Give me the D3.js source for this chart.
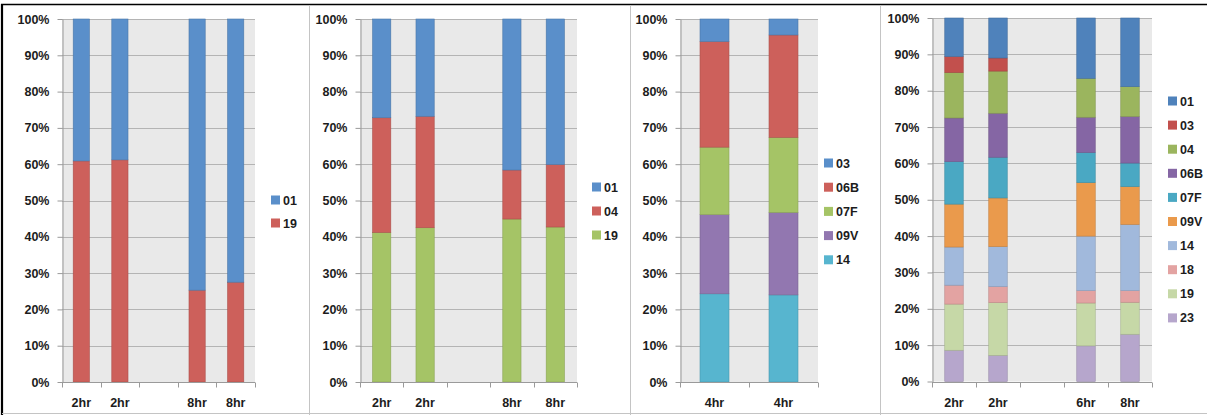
<!DOCTYPE html>
<html>
<head>
<meta charset="utf-8">
<script src="https://cdn.jsdelivr.net/npm/d3@7"></script>
<style>
  html, body { margin: 0; padding: 0; background: #fff; }
  svg { display: block; }
  text { font-family: "Liberation Sans", Arial, sans-serif; font-weight: bold; font-size: 12.5px; fill: #1c1c1c; }
</style>
</head>
<body>
<svg id="chart" width="1207" height="415"></svg>
<script>
// ---- Panel A: serotypes 01 / 19 ----
const catsA = ["2hr", "2hr", "", "8hr", "8hr"];
const seriesA = ["01", "19"];
const a01 = [39.1, 38.8, null, 74.7, 72.5];
const a19 = [60.9, 61.2, null, 25.3, 27.5];

// ---- Panel B: serotypes 01 / 04 / 19 ----
const catsB = ["2hr", "2hr", "", "8hr", "8hr"];
const seriesB = ["01", "04", "19"];
const b01 = [27.2, 26.8, null, 41.6, 40.1];
const b04 = [31.6, 30.7, null, 13.5, 17.2];
const b19 = [41.2, 42.5, null, 44.9, 42.7];

// ---- Panel C: serotypes 03 / 06B / 07F / 09V / 14 ----
const catsC = ["4hr", "4hr"];
const seriesC = ["03", "06B", "07F", "09V", "14"];
const c03 = [6.2, 4.4];
const c06B = [29.1, 28.2];
const c07F = [18.6, 20.7];
const c09V = [21.8, 22.7];
const c14 = [24.3, 24.0];

// ---- Panel D: ten serotypes ----
const catsD = ["2hr", "2hr", "", "6hr", "8hr"];
const seriesD = ["01", "03", "04", "06B", "07F", "09V", "14", "18", "19", "23"];
const d01 = [10.6, 11.0, null, 16.6, 18.9];
const d03 = [4.4, 3.6, null, 0, 0];
const d04 = [12.5, 11.6, null, 10.7, 8.2];
const d06B = [12.0, 12.1, null, 9.7, 12.8];
const d07F = [11.7, 11.2, null, 8.3, 6.5];
const d09V = [11.8, 13.4, null, 14.7, 10.4];
const d14 = [10.5, 11.0, null, 15.0, 18.2];
const d18 = [5.2, 4.4, null, 3.4, 3.2];
const d19 = [12.7, 14.5, null, 11.8, 8.8];
const d23 = [8.6, 7.2, null, 9.8, 13.0];

const yTicks = [0, 10, 20, 30, 40, 50, 60, 70, 80, 90, 100];

// fill colours per panel, in legend order
const colorsA = ["#5a8fca", "#cd605b"];
const colorsB = ["#5a8fca", "#cd605b", "#a5c466"];
const colorsC = ["#5a8fca", "#cd605b", "#a5c466", "#9277b0", "#57b5cf"];
const colorsD = ["#4f82bb", "#c2504d", "#9bb55e", "#8566a4", "#4aa8c3",
                 "#ea9a4c", "#a1b9dc", "#e3a3a2", "#c6d8a7", "#b6a6cc"];

const svg = d3.select("#chart");

// outer frame and panel dividers
svg.append("line").attr("x1", 1).attr("x2", 1207).attr("y1", 4.5).attr("y2", 4.5)
  .attr("stroke", "#000").attr("stroke-width", 1.5);
svg.append("line").attr("x1", 2).attr("x2", 2).attr("y1", 4).attr("y2", 415)
  .attr("stroke", "#000").attr("stroke-width", 2.2);
svg.append("line").attr("x1", 2).attr("x2", 1207).attr("y1", 413.5).attr("y2", 413.5)
  .attr("stroke", "#c4c4c4").attr("stroke-width", 1);
[309.5, 630.5, 880.5].forEach(x => {
  svg.append("line").attr("x1", x).attr("x2", x).attr("y1", 5).attr("y2", 415)
    .attr("stroke", "#c4c4c4").attr("stroke-width", 1);
});

function drawPanel(cfg) {
  const { cats, names, values, colors, left, right, top, bottom, legX, legY, legStep } = cfg;
  const g = svg.append("g");
  const n = cats.length;

  const x = d3.scaleBand().domain(d3.range(n)).range([left, right]).padding(0);
  const y = d3.scaleLinear().domain([0, 100]).range([bottom, top]);

  // plot background
  g.append("rect").attr("x", left).attr("y", y(100)).attr("width", right - left)
    .attr("height", y(0) - y(100)).attr("fill", "#e9e9e9");

  // horizontal gridlines
  g.append("g").selectAll("line").data(yTicks.filter(t => t > 0)).join("line")
    .attr("x1", left).attr("x2", right)
    .attr("y1", d => Math.round(y(d)) + 0.5).attr("y2", d => Math.round(y(d)) + 0.5)
    .attr("stroke", "#b4b4b4").attr("stroke-width", 1.2);

  // stacked bars: first legend entry sits on top, so stack from the last
  const rows = d3.range(n).map(i => {
    const r = { i };
    names.forEach((k, j) => { r[k] = values[j][i] == null ? 0 : values[j][i]; });
    r.empty = values[0][i] == null;
    return r;
  });
  const stackKeys = names.slice().reverse();
  const layers = d3.stack().keys(stackKeys)(rows.filter(r => !r.empty));
  const colorOf = d3.scaleOrdinal().domain(names).range(colors);
  const bw = x.bandwidth() * 0.42;

  g.append("g").selectAll("g").data(layers).join("g")
    .attr("fill", d => colorOf(d.key))
    .attr("stroke", d => d3.color(colorOf(d.key)).darker(0.5))
    .attr("stroke-width", 0.6)
    .selectAll("rect").data(d => d.filter(s => s[1] - s[0] > 0)).join("rect")
    .attr("x", d => x(d.data.i) + (x.bandwidth() - bw) / 2)
    .attr("width", bw)
    .attr("y", d => y(d[1]))
    .attr("height", d => y(d[0]) - y(d[1]));

  // y axis
  const yAxis = d3.axisLeft(y).tickValues(yTicks).tickFormat(d => d + "%")
    .tickSize(5).tickSizeOuter(0).tickPadding(8);
  const ya = g.append("g").attr("transform", `translate(${left + 0.5},0)`).call(yAxis);
  ya.select(".domain").attr("stroke", "#9a9a9a");
  ya.selectAll(".tick line").attr("stroke", "#9a9a9a");
  ya.selectAll(".tick text").attr("fill", "#1c1c1c").style("font-size", "12.5px")
    .style("font-family", '"Liberation Sans", Arial, sans-serif').style("font-weight", "bold");

  // x axis: line along the base, ticks on category boundaries, labels centred
  g.append("line").attr("x1", left).attr("x2", right)
    .attr("y1", Math.round(bottom) + 0.5).attr("y2", Math.round(bottom) + 0.5)
    .attr("stroke", "#9a9a9a");
  const bounds = d3.range(n).map(i => x(i)).concat([right]);
  g.append("g").selectAll("line").data(bounds).join("line")
    .attr("x1", d => Math.round(d) + 0.5).attr("x2", d => Math.round(d) + 0.5)
    .attr("y1", Math.round(bottom) + 0.5).attr("y2", Math.round(bottom) + 5.5)
    .attr("stroke", "#9a9a9a");
  g.append("g").selectAll("text").data(cats.map((c, i) => ({ c, i })).filter(d => d.c)).join("text")
    .attr("x", d => x(d.i) + x.bandwidth() / 2)
    .attr("y", 407)
    .attr("text-anchor", "middle")
    .text(d => d.c);

  // legend
  const lg = g.append("g").selectAll("g").data(names).join("g")
    .attr("transform", (d, j) => `translate(${legX},${legY + j * legStep})`);
  lg.append("rect").attr("x", 0).attr("y", -4.5).attr("width", 9).attr("height", 9)
    .attr("fill", d => colorOf(d));
  lg.append("text").attr("x", 12).attr("y", 0).attr("dy", "0.36em").text(d => d);
}

drawPanel({ cats: catsA, names: seriesA, values: [a01, a19], colors: colorsA,
  left: 62, right: 255, top: 19, bottom: 382, legX: 271, legY: 200, legStep: 23 });
drawPanel({ cats: catsB, names: seriesB, values: [b01, b04, b19], colors: colorsB,
  left: 360, right: 577, top: 19, bottom: 382, legX: 592, legY: 187, legStep: 24 });
drawPanel({ cats: catsC, names: seriesC, values: [c03, c06B, c07F, c09V, c14], colors: colorsC,
  left: 680, right: 818, top: 19, bottom: 382, legX: 824, legY: 163, legStep: 24.2 });
drawPanel({ cats: catsD, names: seriesD,
  values: [d01, d03, d04, d06B, d07F, d09V, d14, d18, d19, d23], colors: colorsD,
  left: 932, right: 1152, top: 18, bottom: 381.5, legX: 1168, legY: 101, legStep: 24.1 });
</script>
</body>
</html>
